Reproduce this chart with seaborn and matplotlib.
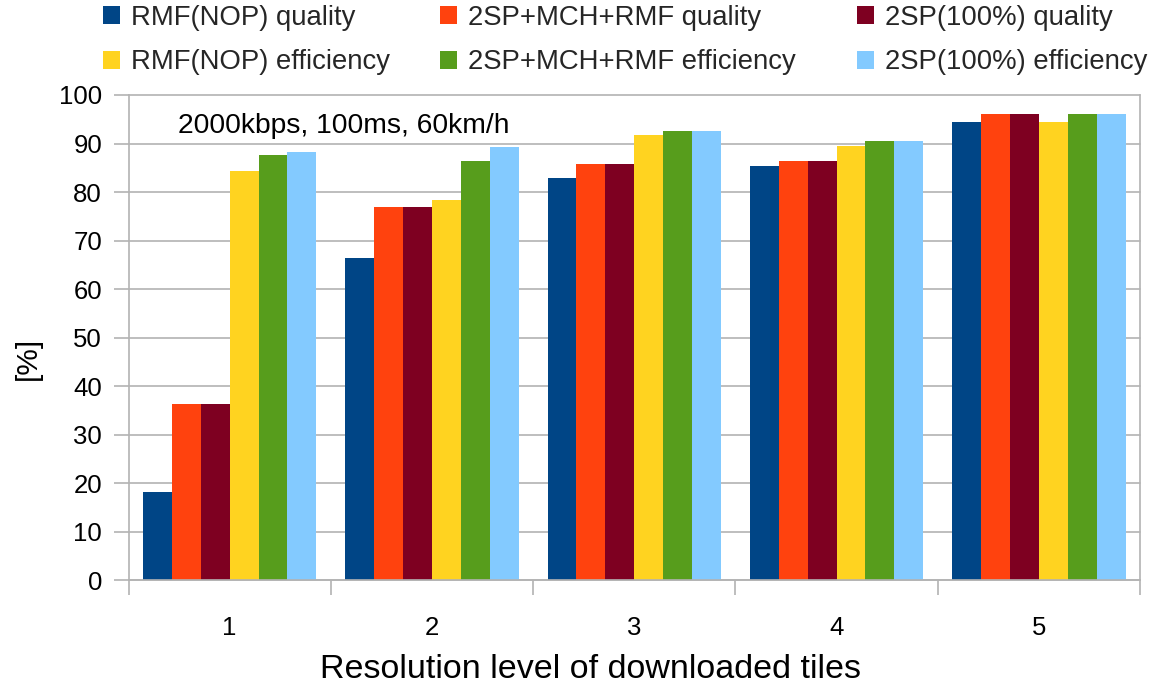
import matplotlib
matplotlib.use("Agg")
import matplotlib.pyplot as plt
from matplotlib.ticker import FixedLocator
from matplotlib.patches import Patch
import seaborn as sns
import pandas as pd

# Resolution levels on the x axis
levels = ["1", "2", "3", "4", "5"]

# Series names (legend order: column by column)
series = [
    "RMF(NOP) quality",
    "2SP+MCH+RMF quality",
    "2SP(100%) quality",
    "RMF(NOP) efficiency",
    "2SP+MCH+RMF efficiency",
    "2SP(100%) efficiency",
]

# Percentages per series, one value per resolution level
rmf_quality = [18.1, 66.4, 82.8, 85.3, 94.4]
mch_quality = [36.4, 76.9, 85.7, 86.3, 96.0]
sp100_quality = [36.4, 77.0, 85.7, 86.3, 96.0]
rmf_efficiency = [84.3, 78.3, 91.8, 89.4, 94.4]
mch_efficiency = [87.6, 86.5, 92.6, 90.5, 96.0]
sp100_efficiency = [88.2, 89.2, 92.6, 90.5, 96.0]

values = [rmf_quality, mch_quality, sp100_quality,
          rmf_efficiency, mch_efficiency, sp100_efficiency]

colors = ["#004586", "#ff420e", "#7e0021", "#ffd320", "#579d1c", "#83caff"]

annotation = "2000kbps, 100ms, 60km/h"
xlabel = "Resolution level of downloaded tiles"
ylabel = "[%]"

df = pd.DataFrame(
    [(lvl, name, v) for name, vals in zip(series, values) for lvl, v in zip(levels, vals)],
    columns=["level", "series", "value"],
)

sns.set_theme(style="white")
plt.rcParams["font.family"] = ["Liberation Sans", "DejaVu Sans"]

W, H = 1165, 690
fig = plt.figure(figsize=(W / 100, H / 100), dpi=100)
ax_left, ax_right, ax_top, ax_bottom = 128.5, 1140, 95, 580.3
ax = fig.add_axes([ax_left / W, 1 - ax_bottom / H,
                   (ax_right - ax_left) / W, (ax_bottom - ax_top) / H])

sns.barplot(data=df, x="level", y="value", hue="series", hue_order=series,
            palette=colors, saturation=1, width=0.857, linewidth=0,
            ax=ax, legend=False)

grid_c = "#b3b3b3"
ax.set_xlim(-0.5, len(levels) - 0.5)
ax.set_ylim(0, 100)
ax.set_yticks(range(0, 101, 10))
ax.yaxis.grid(True, color=grid_c, linewidth=1.2)
ax.set_axisbelow(True)
for g in ax.yaxis.get_gridlines():
    g.set_clip_on(False)

for side in ["left", "bottom", "right"]:
    ax.spines[side].set_visible(True)
    ax.spines[side].set_color(grid_c)
    ax.spines[side].set_linewidth(1.2)
ax.spines["top"].set_visible(False)

ax.tick_params(axis="y", which="major", left=True, length=11, width=1.2,
               color=grid_c, pad=8, labelsize=18.5, labelcolor="black")
ax.tick_params(axis="x", which="major", bottom=False, length=0, pad=26,
               labelsize=18.5, labelcolor="black")
# Category separators drawn as minor ticks below the axis
ax.xaxis.set_minor_locator(FixedLocator([i - 0.5 for i in range(len(levels) + 1)]))
ax.tick_params(axis="x", which="minor", bottom=True, length=11, width=1.2, color=grid_c)

ax.set_xlabel(xlabel, fontsize=24.5, color="black")
ax.xaxis.set_label_coords((590 - ax_left) / (ax_right - ax_left),
                          (ax_bottom - 670) / (ax_bottom - ax_top))
ax.xaxis.label.set_va("center")
ax.set_ylabel(ylabel, fontsize=21.5, color="black")
ax.yaxis.set_label_coords((28 - ax_left) / (ax_right - ax_left),
                          (ax_bottom - 358) / (ax_bottom - ax_top))
ax.yaxis.label.set_va("center")

ax.text(0.565, 93.6, annotation, ha="center", va="center", fontsize=20.3, color="black")

# Legend: three columns, quality on top, efficiency below
col_x = [103, 440, 857]
for i, x in enumerate(col_x):
    names = [series[i], series[i + 3]]
    handles = [Patch(facecolor=colors[i], linewidth=0),
               Patch(facecolor=colors[i + 3], linewidth=0)]
    fig.legend(handles, names, loc="center left",
               bbox_to_anchor=(x / W, 1 - 40 / H), frameon=False,
               fontsize=19.8, handlelength=0.62, handleheight=0.62,
               handletextpad=0.4, labelspacing=0.69, borderpad=0,
               borderaxespad=0)

fig.savefig("out.png", dpi=100)
